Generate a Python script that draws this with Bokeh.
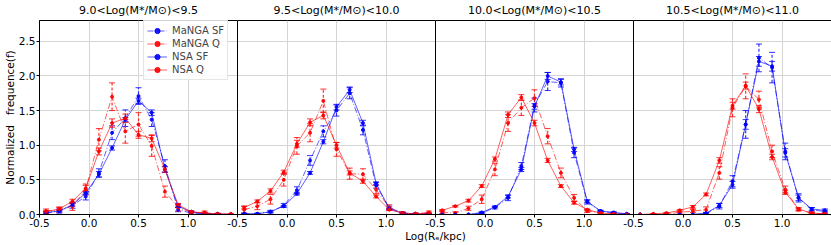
import numpy as np
from bokeh.plotting import figure
from bokeh.models import (ColumnDataSource, Whisker, TeeHead, Range1d, FixedTicker,
                          Span, Legend, LegendItem, LinearAxis)
from bokeh.embed import file_html
from bokeh.resources import INLINE

# ---------------- data ----------------
log_re = [-0.433, -0.3, -0.167, -0.033, 0.1, 0.233, 0.367, 0.5, 0.633, 0.767, 0.9, 1.033, 1.167, 1.3, 1.433]
panel_titles = ["9.0<Log(M*/M\u2299)<9.5", "9.5<Log(M*/M\u2299)<10.0",
                "10.0<Log(M*/M\u2299)<10.5", "10.5<Log(M*/M\u2299)<11.0"]
x_ticks = [-0.5, 0.0, 0.5, 1.0]
x_tick_labels = ["-0.5", "0.0", "0.5", "1.0"]
y_ticks = [0.0, 0.5, 1.0, 1.5, 2.0, 2.5]
series_names = ["MaNGA SF", "MaNGA Q", "NSA SF", "NSA Q"]

# panel 1 : 9.0 - 9.5
manga_sf_1 = [0.02, 0.05, 0.13, 0.26, 0.60, 1.18, 1.39, 1.71, 1.37, 0.70, 0.07, 0.02, 0.01, 0.00, 0.00]
manga_sf_err_1 = [0.02, 0.03, 0.04, 0.05, 0.06, 0.10, 0.12, 0.12, 0.10, 0.09, 0.03, 0.02, 0.01, 0.01, 0.00]
manga_q_1 = [0.05, 0.07, 0.12, 0.36, 1.08, 1.70, 1.20, 1.30, 0.99, 0.33, 0.10, 0.03, 0.03, 0.00, 0.00]
manga_q_err_1 = [0.03, 0.04, 0.06, 0.08, 0.16, 0.20, 0.17, 0.17, 0.15, 0.08, 0.05, 0.02, 0.02, 0.01, 0.00]
nsa_sf_1 = [0.03, 0.05, 0.14, 0.31, 0.58, 0.96, 1.37, 1.64, 1.47, 0.65, 0.12, 0.04, 0.01, 0.01, 0.00]
nsa_sf_err_1 = [0.01, 0.01, 0.02, 0.02, 0.04, 0.03, 0.03, 0.04, 0.04, 0.04, 0.02, 0.01, 0.01, 0.00, 0.00]
nsa_q_1 = [0.04, 0.08, 0.19, 0.38, 0.91, 1.32, 1.39, 1.15, 1.10, 0.65, 0.14, 0.04, 0.02, 0.01, 0.01]
nsa_q_err_1 = [0.02, 0.02, 0.03, 0.04, 0.05, 0.06, 0.06, 0.05, 0.05, 0.04, 0.02, 0.01, 0.01, 0.01, 0.00]

# panel 2 : 9.5 - 10.0
manga_sf_2 = [0.01, 0.01, 0.04, 0.13, 0.35, 0.78, 1.20, 1.50, 1.75, 1.22, 0.42, 0.10, 0.02, 0.01, 0.01]
manga_sf_err_2 = [0.01, 0.01, 0.02, 0.03, 0.05, 0.07, 0.08, 0.08, 0.08, 0.07, 0.04, 0.02, 0.01, 0.01, 0.00]
manga_q_2 = [0.07, 0.12, 0.22, 0.50, 0.99, 1.18, 1.64, 0.94, 0.59, 0.58, 0.36, 0.10, 0.02, 0.01, 0.03]
manga_q_err_2 = [0.05, 0.05, 0.07, 0.09, 0.12, 0.13, 0.17, 0.10, 0.08, 0.08, 0.06, 0.04, 0.02, 0.01, 0.02]
nsa_sf_2 = [0.01, 0.01, 0.04, 0.12, 0.30, 0.60, 1.05, 1.55, 1.80, 1.32, 0.45, 0.08, 0.02, 0.01, 0.01]
nsa_sf_err_2 = [0.00, 0.00, 0.01, 0.01, 0.02, 0.02, 0.03, 0.04, 0.04, 0.04, 0.02, 0.01, 0.01, 0.00, 0.00]
nsa_q_2 = [0.10, 0.19, 0.34, 0.61, 1.02, 1.33, 1.43, 1.00, 0.60, 0.48, 0.26, 0.07, 0.02, 0.01, 0.02]
nsa_q_err_2 = [0.02, 0.02, 0.03, 0.03, 0.05, 0.05, 0.05, 0.04, 0.03, 0.03, 0.02, 0.01, 0.01, 0.00, 0.01]

# panel 3 : 10.0 - 10.5
manga_sf_3 = [0.00, 0.00, 0.00, 0.02, 0.10, 0.24, 0.70, 1.58, 1.92, 1.90, 0.89, 0.18, 0.05, 0.02, 0.01]
manga_sf_err_3 = [0.00, 0.00, 0.00, 0.01, 0.02, 0.04, 0.05, 0.10, 0.13, 0.06, 0.07, 0.03, 0.01, 0.01, 0.00]
manga_q_3 = [0.03, 0.02, 0.09, 0.22, 0.65, 1.32, 1.54, 1.68, 1.13, 0.60, 0.24, 0.05, 0.02, 0.00, 0.00]
manga_q_err_3 = [0.02, 0.02, 0.03, 0.06, 0.09, 0.12, 0.11, 0.12, 0.11, 0.07, 0.05, 0.02, 0.01, 0.00, 0.00]
nsa_sf_3 = [0.00, 0.00, 0.00, 0.03, 0.11, 0.26, 0.65, 1.56, 2.00, 1.91, 0.94, 0.19, 0.05, 0.03, 0.01]
nsa_sf_err_3 = [0.00, 0.00, 0.00, 0.01, 0.01, 0.02, 0.03, 0.04, 0.05, 0.04, 0.03, 0.02, 0.01, 0.01, 0.00]
nsa_q_3 = [0.06, 0.12, 0.20, 0.41, 0.80, 1.44, 1.69, 1.32, 0.78, 0.41, 0.17, 0.07, 0.02, 0.01, 0.00]
nsa_q_err_3 = [0.01, 0.01, 0.02, 0.02, 0.03, 0.04, 0.04, 0.04, 0.03, 0.02, 0.02, 0.01, 0.01, 0.00, 0.00]

# panel 4 : 10.5 - 11.0
manga_sf_4 = [0.00, 0.00, 0.00, 0.00, 0.00, 0.01, 0.12, 0.48, 1.30, 2.26, 2.12, 0.91, 0.24, 0.07, 0.04]
manga_sf_err_4 = [0.00, 0.00, 0.00, 0.00, 0.00, 0.01, 0.04, 0.08, 0.20, 0.20, 0.22, 0.12, 0.06, 0.03, 0.02]
manga_q_4 = [0.00, 0.00, 0.01, 0.03, 0.05, 0.07, 0.60, 1.54, 1.85, 1.66, 0.91, 0.36, 0.07, 0.02, 0.01]
manga_q_err_4 = [0.00, 0.00, 0.01, 0.01, 0.02, 0.04, 0.09, 0.13, 0.18, 0.12, 0.09, 0.05, 0.02, 0.01, 0.01]
nsa_sf_4 = [0.00, 0.00, 0.00, 0.00, 0.00, 0.02, 0.13, 0.43, 1.30, 2.21, 2.14, 0.89, 0.24, 0.08, 0.06]
nsa_sf_err_4 = [0.00, 0.00, 0.00, 0.00, 0.00, 0.01, 0.03, 0.05, 0.07, 0.07, 0.07, 0.06, 0.04, 0.02, 0.02]
nsa_q_4 = [0.00, 0.01, 0.02, 0.06, 0.11, 0.29, 0.78, 1.57, 1.86, 1.52, 0.83, 0.32, 0.08, 0.02, 0.01]
nsa_q_err_4 = [0.00, 0.00, 0.01, 0.01, 0.02, 0.02, 0.04, 0.05, 0.05, 0.05, 0.04, 0.03, 0.02, 0.01, 0.01]

panels = [
    [(manga_sf_1, manga_sf_err_1), (manga_q_1, manga_q_err_1), (nsa_sf_1, nsa_sf_err_1), (nsa_q_1, nsa_q_err_1)],
    [(manga_sf_2, manga_sf_err_2), (manga_q_2, manga_q_err_2), (nsa_sf_2, nsa_sf_err_2), (nsa_q_2, nsa_q_err_2)],
    [(manga_sf_3, manga_sf_err_3), (manga_q_3, manga_q_err_3), (nsa_sf_3, nsa_sf_err_3), (nsa_q_3, nsa_q_err_3)],
    [(manga_sf_4, manga_sf_err_4), (manga_q_4, manga_q_err_4), (nsa_sf_4, nsa_sf_err_4), (nsa_q_4, nsa_q_err_4)],
]

# ---------------- styles ----------------
colors = ["#0000ff", "#ff0000", "#0000ff", "#ff0000"]
line_dashes = ["6 2 1 2", "6 2 1 2", "solid", "solid"]
err_dashes = ["3 2", "3 2", "solid", "solid"]
FONT = "DejaVu Sans"
PANEL_SPAN = 2.0        # each panel spans 2 units of Log(Re)
N_PANELS = 4
FRAME_W = 792
FRAME_H = 194

x0 = x_ticks[0]

p = figure(output_backend="svg", toolbar_location=None,
           frame_width=FRAME_W, frame_height=FRAME_H,
           x_range=Range1d(x0, x0 + PANEL_SPAN * N_PANELS), y_range=Range1d(0, 2.8),
           min_border_top=0, min_border_right=2, min_border_left=0, min_border_bottom=0)
p.background_fill_color = "white"
p.border_fill_color = "white"
p.outline_line_color = "black"
p.outline_line_width = 1

# ticks : same ticks repeated in each panel
tick_pos, tick_lab = [], {}
for i in range(N_PANELS):
    for t, lab in zip(x_ticks, x_tick_labels):
        v = t + PANEL_SPAN * i
        tick_pos.append(v)
        tick_lab[v] = lab
p.xaxis.ticker = FixedTicker(ticks=tick_pos)
p.xaxis.major_label_overrides = tick_lab
p.yaxis.ticker = FixedTicker(ticks=y_ticks)
p.yaxis.major_label_overrides = {v: f"{v:.1f}" for v in y_ticks}
for ax in (p.xaxis[0], p.yaxis[0]):
    ax.major_tick_out = 3
    ax.major_tick_in = 0
    ax.minor_tick_out = 0
    ax.minor_tick_in = 0
    ax.major_label_text_font = FONT
    ax.major_label_text_font_size = "10.5px"
    ax.major_label_text_color = "black"
    ax.axis_label_text_font = FONT
    ax.axis_label_text_font_size = "10.5px"
    ax.axis_label_text_font_style = "normal"
    ax.axis_label_text_color = "black"
    ax.axis_line_color = "black"
    ax.major_tick_line_color = "black"
p.yaxis.major_label_standoff = 1
p.yaxis.axis_label_standoff = 0
p.xaxis.major_label_standoff = 1
p.xaxis.axis_label_standoff = 0
p.xaxis.axis_label = "Log(R\u2091/kpc)"
p.yaxis.axis_label = "Normalized\u00a0\u00a0\u00a0frequence(f)"

# panel titles, one per panel, on an axis above the frame
centers = [x0 + PANEL_SPAN * i + PANEL_SPAN / 2 for i in range(N_PANELS)]
title_axis = LinearAxis(ticker=FixedTicker(ticks=centers),
                        major_label_overrides={c: t for c, t in zip(centers, panel_titles)},
                        major_tick_out=0, major_tick_in=0, minor_tick_out=0, minor_tick_in=0,
                        axis_line_color=None, major_label_standoff=4,
                        major_label_text_font=FONT, major_label_text_font_size="11px",
                        major_label_text_color="black")
p.add_layout(title_axis, "above")

p.xgrid.ticker = FixedTicker(ticks=tick_pos)
p.ygrid.ticker = FixedTicker(ticks=y_ticks)
p.grid.grid_line_color = "#d5d5d5"
p.grid.grid_line_width = 1

# panel separators
for i in range(1, N_PANELS):
    p.add_layout(Span(location=x0 + PANEL_SPAN * i, dimension="height",
                      line_color="black", line_width=1))

legend_items = []
for i, panel in enumerate(panels):
    for k, (vals, errs) in enumerate(panel):
        xs = np.array(log_re) + PANEL_SPAN * i
        ys = np.array(vals)
        es = np.array(errs)
        src = ColumnDataSource(dict(x=xs, y=ys, lo=ys - es, hi=ys + es))
        ln = p.line("x", "y", source=src, line_color=colors[k], line_width=0.9,
                    line_alpha=0.7, line_dash=line_dashes[k])
        sc = p.scatter("x", "y", source=src, size=3, color=colors[k], alpha=0.9)
        w = Whisker(source=src, base="x", lower="lo", upper="hi", dimension="height",
                    line_color=colors[k], line_width=1.2, line_alpha=0.8,
                    line_dash=err_dashes[k],
                    upper_head=TeeHead(size=6, line_color=colors[k], line_width=1, line_alpha=0.8),
                    lower_head=TeeHead(size=6, line_color=colors[k], line_width=1, line_alpha=0.8))
        p.add_layout(w)
        if i == 0:
            legend_items.append(LegendItem(label=series_names[k], renderers=[ln, sc]))

panel_px = FRAME_W / N_PANELS
legend = Legend(items=legend_items, location=(panel_px - 8 - 86, FRAME_H - 4 - 56),
                label_text_font=FONT, label_text_font_size="10px",
                glyph_width=20, glyph_height=13, label_height=13, label_standoff=5,
                label_width=40, spacing=0, padding=3, margin=0,
                border_line_color="#cccccc", border_line_width=1,
                background_fill_color="white", background_fill_alpha=0.85)
p.add_layout(legend)

open("out.html", "w").write(file_html(p, INLINE))
